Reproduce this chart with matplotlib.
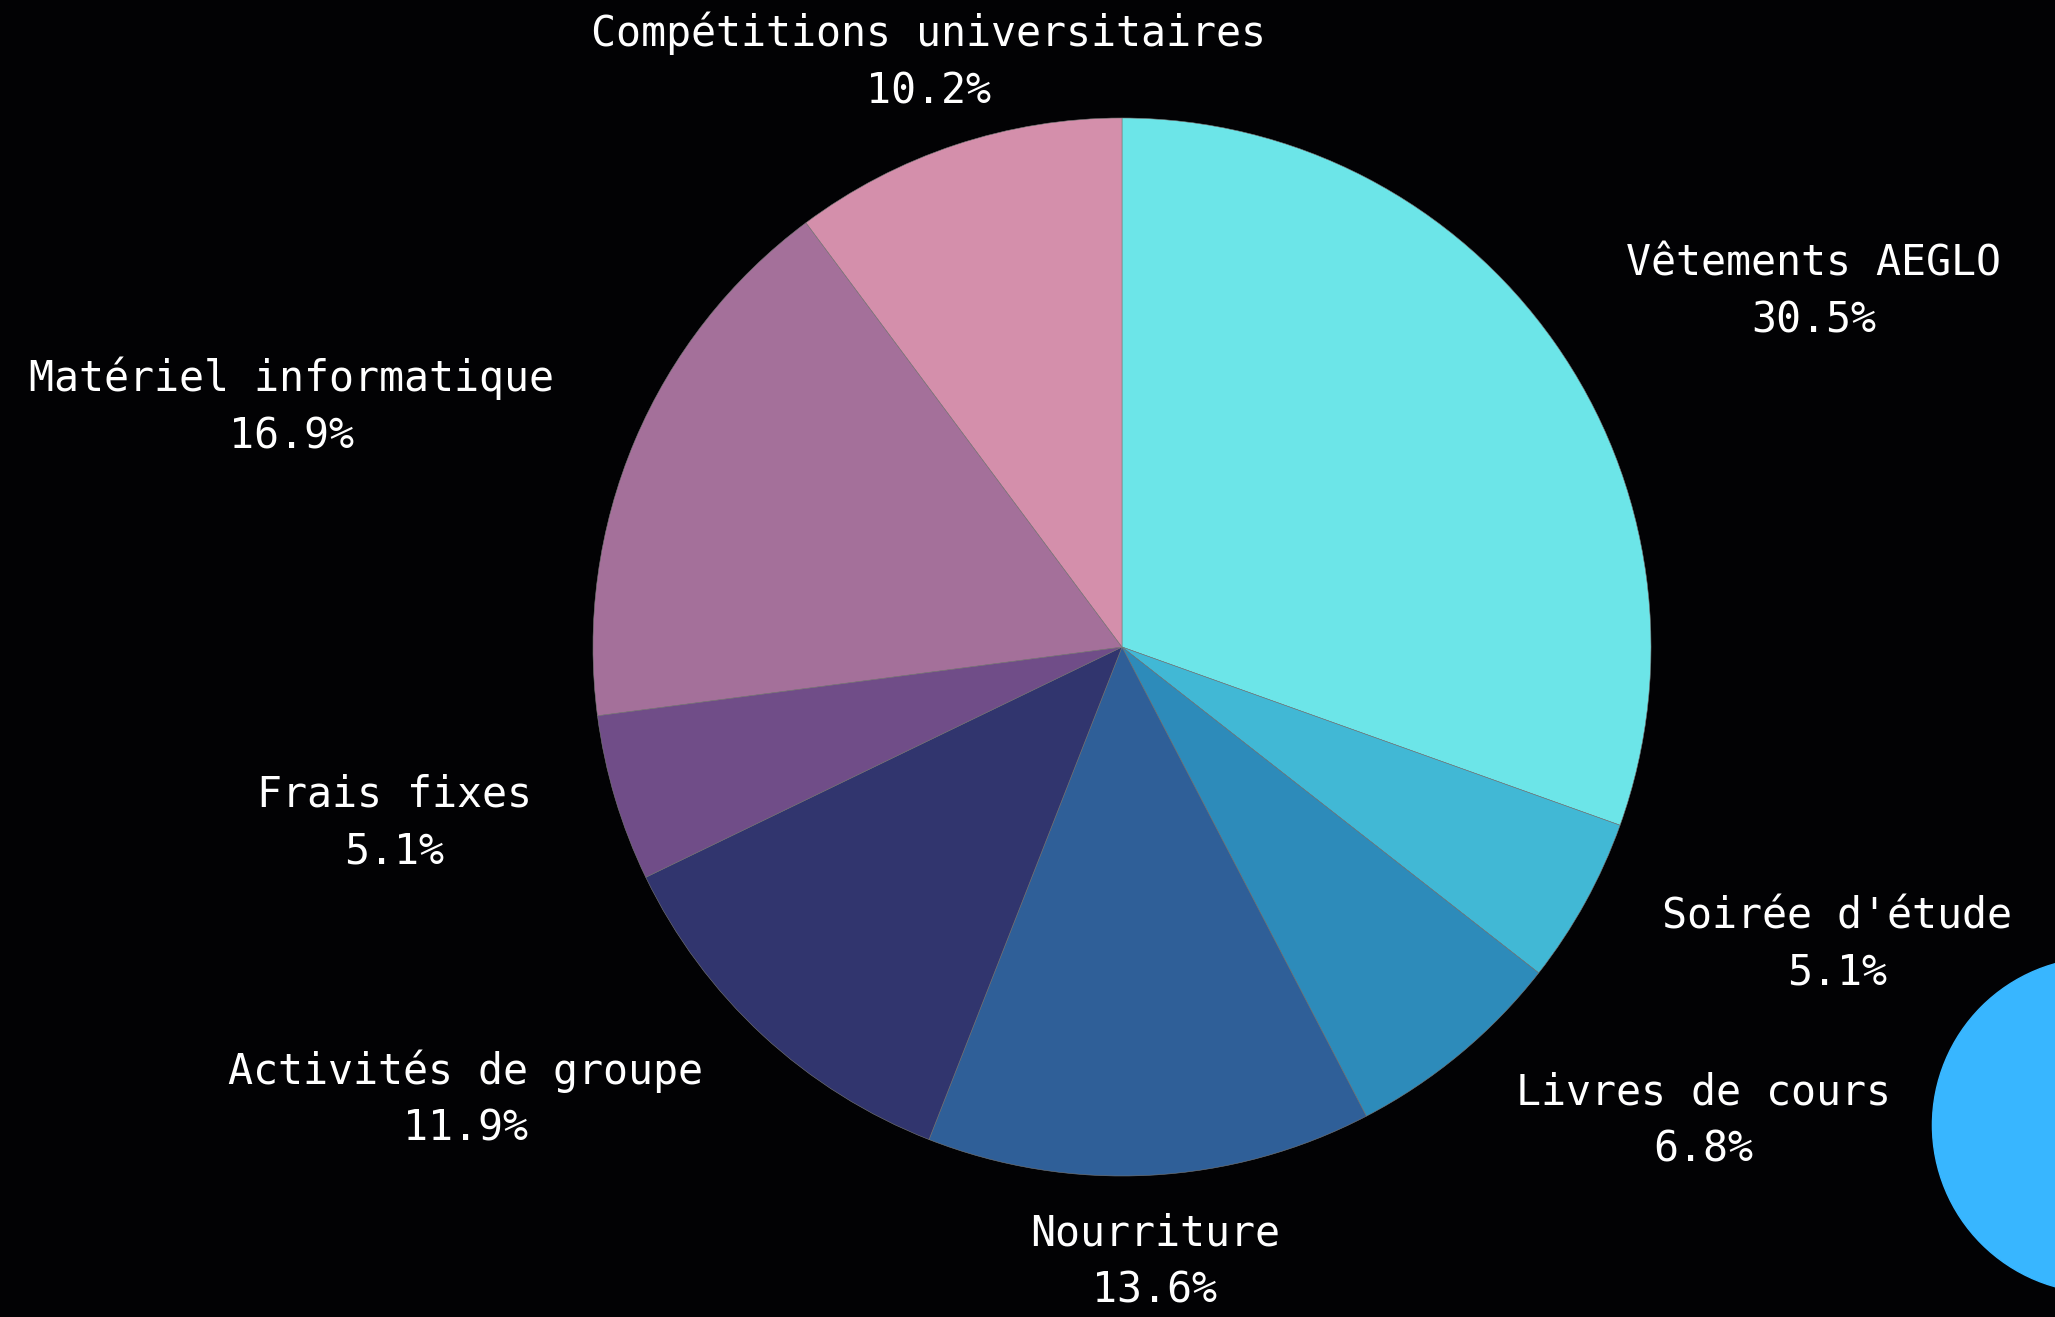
import numpy as np
import matplotlib
matplotlib.use("Agg")
import matplotlib.pyplot as plt
from matplotlib.patches import Circle

# budget shares (%), clockwise from 12 o'clock
categories = ["Vêtements AEGLO", "Soirée d'étude", "Livres de cours", "Nourriture",
              "Activités de groupe", "Frais fixes", "Matériel informatique",
              "Compétitions universitaires"]
shares = [30.5, 5.1, 6.8, 13.6, 11.9, 5.1, 16.9, 10.2]
colors = ["#6ce5e8", "#41b8d5", "#2d8bba", "#2f5f98",
          "#31356e", "#704d88", "#a4709a", "#d48fab"]

bg = "#020204"
W, H = 2055, 1317
cx, cy, R = 1122, 647, 529   # pie centre / radius in pixels
span = 1.6

fig = plt.figure(figsize=(W / 100, H / 100), dpi=100, facecolor=bg)
side = 2 * span * R
ax = fig.add_axes([(cx - side / 2) / W, (H - cy - side / 2) / H, side / W, side / H])
ax.set_facecolor(bg)

labels = [f"{c}\n{v}%" for c, v in zip(categories, shares)]
wedges, texts = ax.pie(shares, colors=colors, labels=labels, startangle=90,
                       counterclock=False, labeldistance=1.165, radius=1,
                       wedgeprops=dict(edgecolor="#7a7a7a", linewidth=0.4),
                       textprops=dict(color="white", fontsize=30,
                                      family="DejaVu Sans Mono",
                                      multialignment="center", linespacing=1.45))

for w, t in zip(wedges, texts):
    ang = np.deg2rad((w.theta1 + w.theta2) / 2)
    if abs(np.cos(ang)) < 0.35:
        t.set_ha("center")

# decorative blob at bottom right
ax.add_patch(Circle((1.849, -0.904), 0.317, color="#38b6ff", clip_on=False))

ax.set_xlim(-span, span)
ax.set_ylim(-span, span)
ax.axis("off")

fig.savefig("out.png", dpi=100, facecolor=bg)
